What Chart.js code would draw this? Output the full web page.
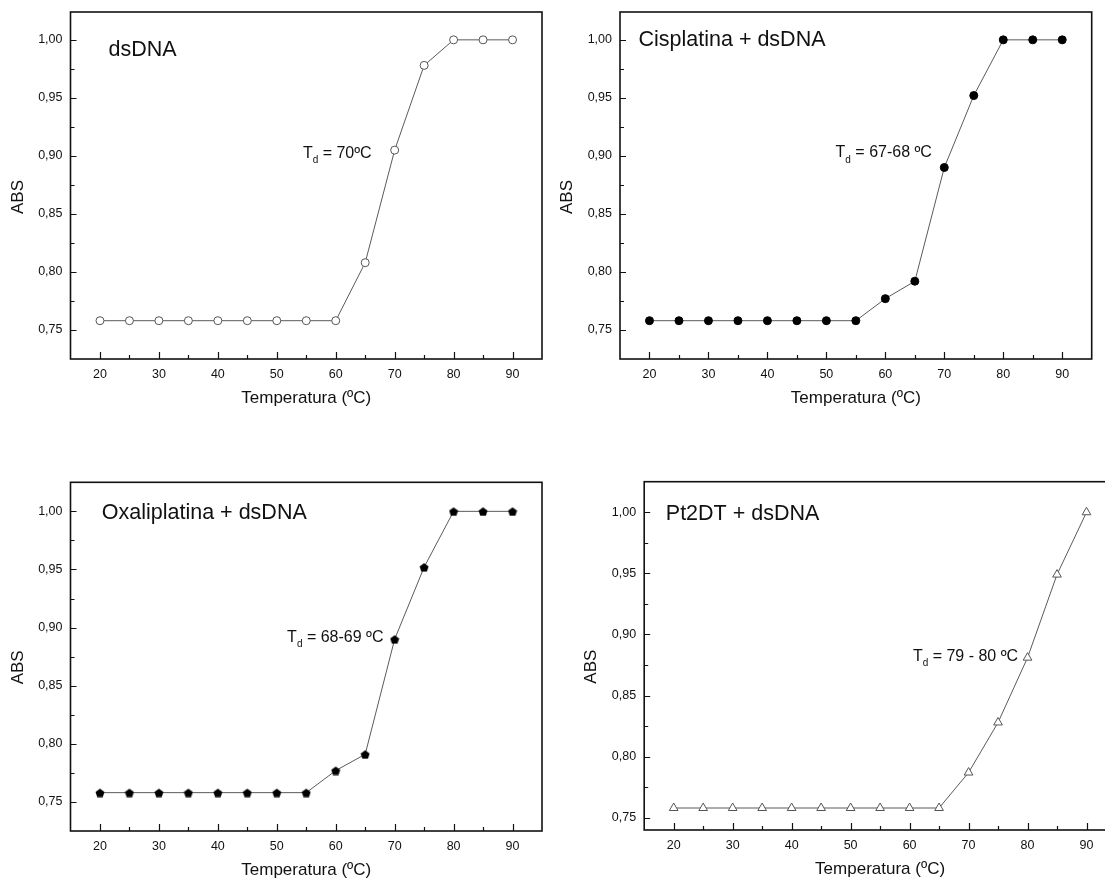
<!DOCTYPE html>
<html>
<head>
<meta charset="utf-8">
<script src="https://cdn.jsdelivr.net/npm/chart.js@4.4.0/dist/chart.umd.min.js"></script>
<style>
  html, body { margin: 0; padding: 0; background: #fff; }
  body { width: 1105px; height: 879px; overflow: hidden; position: relative; }
  canvas { position: absolute; }
</style>
</head>
<body>
<canvas id="c1" width="560" height="440" style="left:0px;top:0px"></canvas>
<canvas id="c2" width="560" height="440" style="left:550px;top:0px"></canvas>
<canvas id="c3" width="560" height="460" style="left:0px;top:440px"></canvas>
<canvas id="c4" width="580" height="460" style="left:550px;top:440px"></canvas>
<script>
// data
const temps = [20, 25, 30, 35, 40, 45, 50, 55, 60, 65, 70, 75, 80, 85, 90];
const absDsDNA        = [0.758, 0.758, 0.758, 0.758, 0.758, 0.758, 0.758, 0.758, 0.758, 0.808, 0.905, 0.978, 1.000, 1.000, 1.000];
const absCisplatina   = [0.758, 0.758, 0.758, 0.758, 0.758, 0.758, 0.758, 0.758, 0.777, 0.792, 0.890, 0.952, 1.000, 1.000, 1.000];
const absOxaliplatina = [0.758, 0.758, 0.758, 0.758, 0.758, 0.758, 0.758, 0.758, 0.777, 0.791, 0.890, 0.952, 1.000, 1.000, 1.000];
const absPt2DT        = [0.758, 0.758, 0.758, 0.758, 0.758, 0.758, 0.758, 0.758, 0.758, 0.758, 0.787, 0.828, 0.881, 0.949, 1.000];

const xTickLabels = [20, 30, 40, 50, 60, 70, 80, 90];
const xMinorTicks = [25, 35, 45, 55, 65, 75, 85];
const yTickLabels = [0.75, 0.80, 0.85, 0.90, 0.95, 1.00];
const yMinorTicks = [0.775, 0.825, 0.875, 0.925, 0.975];

const panelTitles = ["dsDNA", "Cisplatina + dsDNA", "Oxaliplatina + dsDNA", "Pt2DT + dsDNA"];
const tdLabels = [" = 70ºC", " = 67-68 ºC", " = 68-69 ºC", " = 79 - 80 ºC"];
const xTitle = "Temperatura (ºC)";
const yTitle = "ABS";

const FONT = '"Liberation Sans", Arial, sans-serif';
Chart.defaults.font.family = FONT;
Chart.defaults.color = "#111";

// black pentagon marker
function pentagon(size) {
    const c = document.createElement("canvas");
    c.width = size; c.height = size;
    const g = c.getContext("2d");
    const r = size / 2 - 0.3;
    g.beginPath();
    for (let i = 0; i < 5; i++) {
        const a = -Math.PI / 2 + i * 2 * Math.PI / 5;
        const px = size / 2 + r * Math.cos(a);
        const py = size / 2 + 0.6 + r * Math.sin(a);
        if (i === 0) g.moveTo(px, py); else g.lineTo(px, py);
    }
    g.closePath();
    g.fillStyle = "#000";
    g.fill();
    return c;
}

// frame, inward ticks and all texts
const decorPlugin = {
    id: "decor",
    afterDraw(chart, args, o) {
        const ctx = chart.ctx;
        const a = chart.chartArea;
        const xs = chart.scales.x, ys = chart.scales.y;
        ctx.save();
        ctx.strokeStyle = "#111";
        ctx.lineWidth = 1.2;
        ctx.beginPath();
        xTickLabels.forEach(v => { const p = Math.round(xs.getPixelForValue(v)) + 0.5; ctx.moveTo(p, a.bottom); ctx.lineTo(p, a.bottom - 7); });
        xMinorTicks.forEach(v => { const p = Math.round(xs.getPixelForValue(v)) + 0.5; ctx.moveTo(p, a.bottom); ctx.lineTo(p, a.bottom - 4); });
        yTickLabels.forEach(v => { const p = Math.round(ys.getPixelForValue(v)) + 0.5; ctx.moveTo(a.left, p); ctx.lineTo(a.left + 6, p); });
        yMinorTicks.forEach(v => { const p = Math.round(ys.getPixelForValue(v)) + 0.5; ctx.moveTo(a.left, p); ctx.lineTo(a.left + 4, p); });
        ctx.stroke();

        ctx.lineWidth = 1.6;
        ctx.strokeRect(a.left, a.top, a.right - a.left, a.bottom - a.top);

        ctx.fillStyle = "#111";
        ctx.textBaseline = "middle";
        // panel title
        ctx.font = "21.5px " + FONT;
        ctx.textAlign = "left";
        ctx.fillText(o.title, a.left + o.titleDx, a.top + o.titleDy);

        // T_d annotation, anchored in data space by its right end
        const xr = xs.getPixelForValue(o.tdX), ym = ys.getPixelForValue(o.tdY);
        ctx.font = "16px " + FONT;
        const wT = ctx.measureText("T").width;
        const wRest = ctx.measureText(o.td).width;
        ctx.font = "10px " + FONT;
        const wd = ctx.measureText("d").width;
        let x = xr - (wT + wd + wRest);
        ctx.font = "16px " + FONT;
        ctx.fillText("T", x, ym);
        x += wT;
        ctx.font = "10px " + FONT;
        ctx.fillText("d", x, ym + 7);
        x += wd;
        ctx.font = "16px " + FONT;
        ctx.fillText(o.td, x, ym);

        // axis titles
        ctx.font = "17px " + FONT;
        ctx.textAlign = "center";
        ctx.fillText(xTitle, (a.left + a.right) / 2, a.bottom + 39);
        ctx.translate(a.left - 52.5, a.top + 185);
        ctx.rotate(-Math.PI / 2);
        ctx.fillText(yTitle, 0, 0);
        ctx.restore();
    }
};

function makePanel(id, values, marker, box, deco) {
    const ctx = document.getElementById(id).getContext("2d");
    return new Chart(ctx, {
        type: "line",
        data: {
            datasets: [{
                data: temps.map((t, i) => ({ x: t, y: values[i] })),
                borderColor: "#5a5a5a",
                borderWidth: 1,
                tension: 0,
                fill: false,
                pointStyle: marker.style,
                pointRadius: marker.radius,
                pointBackgroundColor: marker.fill,
                pointBorderColor: marker.stroke,
                pointBorderWidth: 1
            }]
        },
        options: {
            responsive: false,
            animation: false,
            events: [],
            layout: { padding: { top: box.top, right: box.right, left: 0, bottom: 0 } },
            plugins: { legend: { display: false }, tooltip: { enabled: false }, decor: deco },
            scales: {
                x: {
                    type: "linear", min: 15, max: 95,
                    afterBuildTicks: s => { s.ticks = xTickLabels.map(v => ({ value: v })); },
                    afterFit: s => { s.height = box.xH; s.paddingLeft = 0; s.paddingRight = 0; },
                    ticks: { padding: 8, font: { size: 12.5 }, color: "#111", maxRotation: 0, autoSkip: false, callback: v => String(v) },
                    grid: { display: false, drawTicks: false },
                    border: { display: false }
                },
                y: {
                    type: "linear", min: box.yMin, max: box.yMax,
                    afterBuildTicks: s => { s.ticks = yTickLabels.map(v => ({ value: v })); },
                    afterFit: s => { s.width = box.yW; s.paddingTop = 0; s.paddingBottom = 0; },
                    ticks: { padding: 8, font: { size: 12.5 }, color: "#111", callback: v => v.toFixed(2).replace(".", ",") },
                    grid: { display: false, drawTicks: false },
                    border: { display: false }
                }
            }
        },
        plugins: [decorPlugin]
    });
}

const openCircle = { style: "circle", radius: 4, fill: "#fff", stroke: "#555" };
const dotCircle = { style: "circle", radius: 4, fill: "#000", stroke: "#000" };
const pentaMark = { style: pentagon(10), radius: 5, fill: "#000", stroke: "#000" };
const openTri = { style: "triangle", radius: 5, fill: "#fff", stroke: "#555" };

makePanel("c1", absDsDNA, openCircle,
    { top: 12, right: 18, xH: 81, yW: 70.5, yMin: 0.725, yMax: 1.024 },
    { title: panelTitles[0], titleDx: 38, titleDy: 38, td: tdLabels[0], tdX: 66.1, tdY: 0.902 });
makePanel("c2", absCisplatina, dotCircle,
    { top: 12, right: 18.3, xH: 81, yW: 70, yMin: 0.725, yMax: 1.024 },
    { title: panelTitles[1], titleDx: 18.5, titleDy: 28, td: tdLabels[1], tdX: 67.9, tdY: 0.9026 });
makePanel("c3", absOxaliplatina, pentaMark,
    { top: 42.3, right: 18, xH: 69, yW: 70.5, yMin: 0.725, yMax: 1.025 },
    { title: panelTitles[2], titleDx: 31.3, titleDy: 31, td: tdLabels[2], tdX: 68.1, tdY: 0.8914 });
makePanel("c4", absPt2DT, openTri,
    { top: 41.7, right: 14, xH: 70, yW: 94.2, yMin: 0.740, yMax: 1.025 },
    { title: panelTitles[3], titleDx: 21.6, titleDy: 32.3, td: tdLabels[3], tdX: 78.4, tdY: 0.882 });
</script>
</body>
</html>
